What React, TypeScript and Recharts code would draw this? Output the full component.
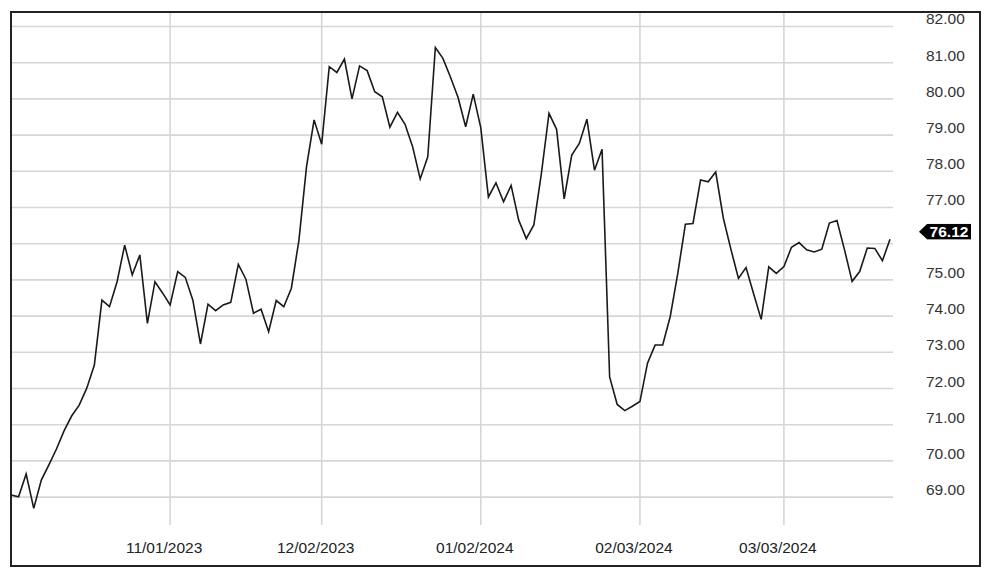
import React from 'react';
import { LineChart, Line, XAxis, YAxis, ReferenceLine } from 'recharts';

const prices = [
  69.06, 69.01, 69.64, 68.69, 69.47, 69.89, 70.33, 70.83, 71.24, 71.54,
  72.01, 72.65, 74.44, 74.26, 74.95, 75.96, 75.14, 75.69, 73.80, 74.95,
  74.64, 74.31, 75.23, 75.07, 74.44, 73.23, 74.33, 74.15, 74.31, 74.38,
  75.43, 75.02, 74.08, 74.19, 73.57, 74.43, 74.26, 74.77, 76.10, 78.13,
  79.42, 78.75, 80.89, 80.73, 81.10, 80.00, 80.91, 80.78, 80.20, 80.06,
  79.22, 79.63, 79.30, 78.68, 77.79, 78.40, 81.42, 81.12, 80.60, 80.04,
  79.23, 80.13, 79.20, 77.29, 77.68, 77.16, 77.61, 76.65, 76.14, 76.52,
  77.95, 79.60, 79.16, 77.24, 78.45, 78.77, 79.44, 78.03, 78.61, 72.32,
  71.56, 71.39, 71.51, 71.64, 72.70, 73.20, 73.20, 73.99, 75.19, 76.54,
  76.56, 77.76, 77.71, 77.98, 76.71, 75.85, 75.04, 75.34, 74.62, 73.91,
  75.36, 75.18, 75.37, 75.90, 76.03, 75.83, 75.77, 75.85, 76.57, 76.64,
  75.83, 74.96, 75.23, 75.88, 75.87, 75.53, 76.12,
];

const xTickIndex = [21, 41, 62, 83, 102];
const xTickLabels = ['11/01/2023', '12/02/2023', '01/02/2024', '02/03/2024', '03/03/2024'];
const yTicks = [69, 70, 71, 72, 73, 74, 75, 76, 77, 78, 79, 80, 81, 82];
const yDomain = [68.23, 82.4];
const lastPrice = 76.12;

const data = prices.map((v, i) => ({ i, v }));

const FONT = '"Liberation Sans", Arial, Helvetica, sans-serif';
const GRID = '#d6d6d6';

const YTick = (props: any) => {
  const { x, y, payload } = props;
  const val = Number(payload.value);
  if (Math.abs(val - lastPrice) < 0.45) return <g />;
  return (
    <text x={x + 33} y={y - 2} fill="#333" fontSize={15.5} fontFamily={FONT} textAnchor="start">
      {val.toFixed(2)}
    </text>
  );
};

const XTick = (props: any) => {
  const { x, y, payload } = props;
  const idx = xTickIndex.indexOf(payload.value);
  return (
    <text x={x - 6} y={y + 28} fill="#222" fontSize={15.5} fontFamily={FONT} textAnchor="middle">
      {idx >= 0 ? xTickLabels[idx] : ''}
    </text>
  );
};

const PriceTag = (props: any) => {
  const vb = props.viewBox || {};
  const right = (vb.x || 0) + (vb.width || 0);
  const y = vb.y || 0;
  const tip = right + 26;
  const bx = right + 34;
  const bw = 44;
  const h = 15.4;
  return (
    <g>
      <polygon points={`${tip},${y - h / 2} ${bx},${y - h} ${bx},${y}`} fill="#000" />
      <rect x={bx} y={y - h} width={bw} height={h} fill="#000" />
      <text x={bx + bw / 2} y={y - 2} fill="#fff" fontSize={15.5} fontWeight="bold" fontFamily={FONT} textAnchor="middle">
        {lastPrice.toFixed(2)}
      </text>
    </g>
  );
};

export default function App() {
  return (
    <div style={{ position: 'relative', width: 981, height: 570, background: '#fff' }}>
      <LineChart width={981} height={570} data={data} margin={{ top: 4, right: 9, bottom: 12, left: 3 }}>
        <XAxis
          dataKey="i"
          type="number"
          domain={[0, prices.length - 1]}
          ticks={xTickIndex}
          padding={{ left: 0, right: 3 }}
          axisLine={false}
          tickLine={false}
          tickSize={0}
          tickMargin={0}
          height={41}
          tick={<XTick />}
          interval={0}
        />
        <YAxis
          orientation="right"
          type="number"
          domain={yDomain}
          ticks={yTicks}
          allowDataOverflow
          axisLine={false}
          tickLine={false}
          tickSize={0}
          tickMargin={0}
          width={87}
          tick={<YTick />}
          interval={0}
        />
        {yTicks.map((t) => (
          <ReferenceLine key={`h${t}`} y={t} stroke={GRID} strokeWidth={1.6} />
        ))}
        {xTickIndex.map((t) => (
          <ReferenceLine key={`v${t}`} x={t} stroke={GRID} strokeWidth={1.6} />
        ))}
        <ReferenceLine y={lastPrice} stroke="none" ifOverflow="visible" label={(p: any) => <PriceTag {...p} />} />
        <Line
          type="linear"
          dataKey="v"
          stroke="#1a1a1a"
          strokeWidth={1.6}
          dot={false}
          isAnimationActive={false}
        />
      </LineChart>
      <div
        style={{
          position: 'absolute',
          left: 2,
          top: 3,
          width: 971,
          height: 556,
          border: '2px solid #222',
          boxSizing: 'border-box',
          pointerEvents: 'none',
        }}
      />
    </div>
  );
}
